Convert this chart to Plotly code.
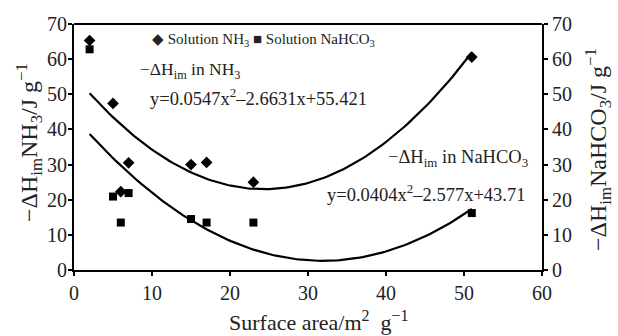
import numpy as np
import plotly.graph_objects as go

# Data
x_nh3 = [2, 5, 6, 7, 15, 17, 23, 51]
y_nh3 = [65.3, 47.4, 22.3, 30.5, 30.0, 30.6, 25.0, 60.6]
x_nahco3 = [2, 5, 6, 7, 15, 17, 23, 51]
y_nahco3 = [62.8, 20.9, 13.5, 21.9, 14.5, 13.5, 13.5, 16.2]

# Trendline coefficients printed on the chart (a, b, c for a*x^2 + b*x + c)
coef_nh3 = [0.0547, -2.6631, 55.421]
coef_nahco3 = [0.0404, -2.577, 43.71]
x_tick_vals = [0, 10, 20, 30, 40, 50, 60]
y_tick_vals = [0, 10, 20, 30, 40, 50, 60, 70]

xs = np.linspace(2, 51, 120)
fit_nh3 = np.polyval(coef_nh3, xs)
fit_nahco3 = np.polyval(coef_nahco3, xs)

FONT = "Liberation Serif"
TXT = "#222"

fig = go.Figure()
fig.add_trace(go.Scatter(x=xs, y=fit_nh3, mode="lines", line=dict(color="black", width=2.2),
                         showlegend=False))
fig.add_trace(go.Scatter(x=xs, y=fit_nahco3, mode="lines", line=dict(color="black", width=2.2),
                         showlegend=False))
fig.add_trace(go.Scatter(x=x_nh3, y=y_nh3, mode="markers", name="Solution NH3",
                         marker=dict(symbol="diamond", size=9, color="black"), showlegend=False))
fig.add_trace(go.Scatter(x=x_nahco3, y=y_nahco3, mode="markers", name="Solution NaHCO3",
                         marker=dict(symbol="square", size=8, color="black"), showlegend=False,
                         yaxis="y2"))

axis_common = dict(showgrid=False, zeroline=False, showline=True, linecolor="black", linewidth=1.8,
                   ticks="outside", ticklen=4, tickcolor="black", tickwidth=1.5,
                   tickfont=dict(family=FONT, size=20, color=TXT))

fig.update_layout(
    width=618, height=336,
    margin=dict(l=74, r=76, t=24, b=66),
    paper_bgcolor="white", plot_bgcolor="white",
    font=dict(family=FONT, color=TXT),
    xaxis=dict(range=[0, 60], tickvals=x_tick_vals, **axis_common),
    yaxis=dict(range=[0, 70], tickvals=y_tick_vals, ticklabelstandoff=-3, **axis_common),
    yaxis2=dict(range=[0, 70], tickvals=y_tick_vals, overlaying="y", side="right", **axis_common),
)

# top border line
fig.add_shape(type="line", xref="paper", yref="paper", x0=0, x1=1, y0=1, y1=1,
              line=dict(color="black", width=1.8))

# axis titles (placed as annotations to match the reference position)
PW, PH = 618 - 74 - 76, 336 - 24 - 66
def px_x(p):
    return (p - 74) / PW
def px_y(p):
    return (336 - 66 - p) / PH

def big_sup(s, size):
    return f"<sup><span style='font-size:{size}px'>{s}</span></sup>"

fig.add_annotation(xref="paper", yref="paper", x=px_x(319), y=px_y(321), xanchor="center", yanchor="middle",
                   showarrow=False, font=dict(family=FONT, size=22, color=TXT),
                   text="Surface area/m" + big_sup("2", 16) + "&nbsp; g" + big_sup("−1", 16))
fig.add_annotation(xref="paper", yref="paper", x=px_x(29), y=px_y(143), xanchor="center", yanchor="middle",
                   showarrow=False, textangle=-90, font=dict(family=FONT, size=24, color=TXT),
                   text="−ΔH<sub>im</sub>NH<sub>3</sub>/J g<sup>−1</sup>")
fig.add_annotation(xref="paper", yref="paper", x=px_x(598), y=px_y(150), xanchor="center", yanchor="middle",
                   showarrow=False, textangle=-90, font=dict(family=FONT, size=24, color=TXT),
                   text="−ΔH<sub>im</sub>NaHCO<sub>3</sub>/J g<sup>−1</sup>")

ann_font = dict(family=FONT, size=15, color=TXT)
fig.add_annotation(x=9.7, y=65.5, xref="x", yref="y", xanchor="left", yanchor="middle", showarrow=False,
                   text="◆ Solution NH<sub>3</sub> ■ Solution NaHCO<sub>3</sub>", font=ann_font)
fig.add_annotation(x=8.2, y=56.8, xref="x", yref="y", xanchor="left", yanchor="middle", showarrow=False,
                   text="−ΔH<sub>im</sub> in NH<sub>3</sub>", font=dict(family=FONT, size=17.5, color=TXT))
fig.add_annotation(x=9.5, y=49.2, xref="x", yref="y", xanchor="left", yanchor="middle", showarrow=False,
                   text="y=0.0547x<sup>2</sup>–2.6631x+55.421", font=dict(family=FONT, size=18.5, color=TXT))
fig.add_annotation(x=58.5, y=31.6, xref="x", yref="y", xanchor="right", yanchor="middle", showarrow=False,
                   text="−ΔH<sub>im</sub> in NaHCO<sub>3</sub>", font=dict(family=FONT, size=18.5, color=TXT))
fig.add_annotation(x=58.1, y=21.9, xref="x", yref="y", xanchor="right", yanchor="middle", showarrow=False,
                   text="y=0.0404x<sup>2</sup>–2.577x+43.71", font=dict(family=FONT, size=18.5, color=TXT))

fig.write_html("out.html")
